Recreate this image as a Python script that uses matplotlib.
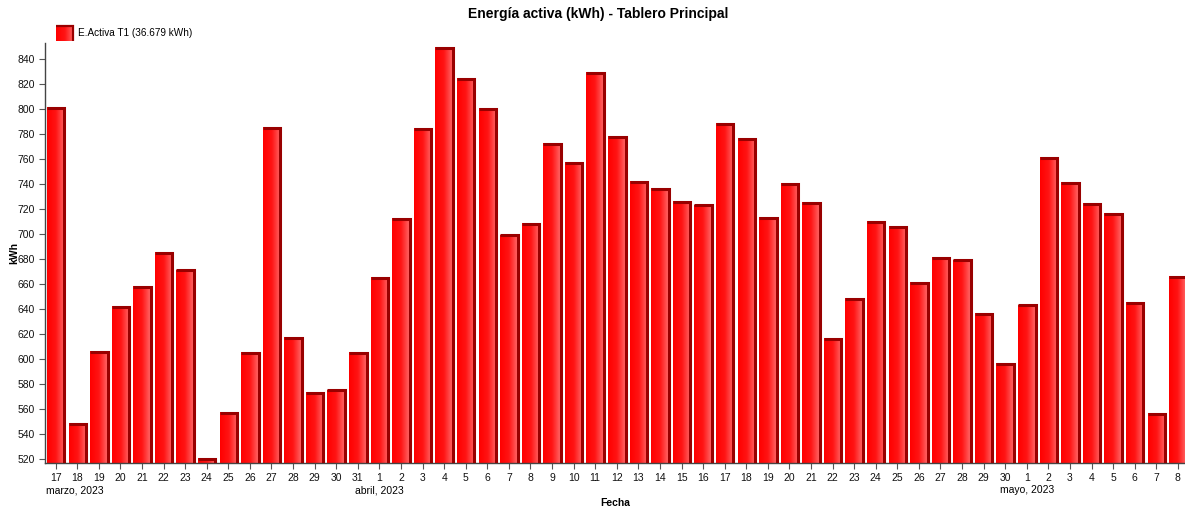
import numpy as np
import pandas as pd
import matplotlib
matplotlib.use("Agg")
import matplotlib.pyplot as plt
import matplotlib.transforms as mtransforms
from matplotlib.colors import LinearSegmentedColormap

plt.rcParams['font.family'] = ['Liberation Sans', 'DejaVu Sans']

# Energía activa diaria (kWh), 17-03-2023 a 08-05-2023
fechas = pd.date_range('2023-03-17', '2023-05-08', freq='D')
dias = [d.day for d in fechas]

energia_marzo = [801, 548, 606, 642, 658, 685, 671, 520, 557, 605, 785, 617, 573, 575, 605]
energia_abril = [665, 712, 784, 849, 824, 800, 699, 708, 772, 757, 829, 778, 742, 736, 726,
                 723, 788, 776, 713, 740, 725, 616, 648, 710, 706, 661, 681, 679, 636, 596]
energia_mayo = [643, 761, 741, 724, 716, 645, 556, 666]
energia = energia_marzo + energia_abril + energia_mayo

meses = {3: 'marzo', 4: 'abril', 5: 'mayo'}
titulo = 'Energía activa (kWh) - Tablero Principal'
serie = 'E.Activa T1'

total = sum(energia)
total_txt = f'{total:,}'.replace(',', '.')

# degradado horizontal de las barras + borde oscuro (efecto 3D)
rojo = LinearSegmentedColormap.from_list('rojo', ['#ff0000', '#ff1414', '#ff6a6a'])
grad = np.linspace(0, 1, 64).reshape(1, -1)
borde = '#990000'


def barra(axis, x0, x1, y0, y1, lw=2.2):
    axis.imshow(grad, cmap=rojo, extent=[x0, x1, y0, y1], aspect='auto',
                interpolation='bilinear', zorder=2)
    axis.plot([x0, x1, x1], [y1, y1, y0], color=borde, lw=lw,
              solid_joinstyle='miter', solid_capstyle='butt', zorder=3)


fig = plt.figure(figsize=(11.85, 5.09), dpi=100)
ax = fig.add_axes([0.0377, 0.0898, 0.9623, 0.8257])

x = np.arange(len(energia))
ancho = 0.81
y_min, y_max = 516.6, 853
for xi, v in zip(x, energia):
    barra(ax, xi - ancho / 2, xi + ancho / 2, y_min, v)

ax.set_xlim(-0.51, 52.33)
ax.set_ylim(y_min, y_max)

ax.set_xticks(x)
ax.set_xticklabels(dias)
ax.set_yticks(range(520, 841, 20))
ax.tick_params(length=4, width=0.8, color='#555555', labelsize=7.5, pad=3,
               labelcolor='#111111')
for lado in ['top', 'right']:
    ax.spines[lado].set_visible(False)
for lado in ['left', 'bottom']:
    ax.spines[lado].set_color('#444444')
    ax.spines[lado].set_linewidth(1.0)

# nombre del mes bajo el primer día de cada mes
trans = mtransforms.blended_transform_factory(ax.transData, ax.transAxes)
for i, d in enumerate(fechas):
    etiqueta = f'{meses[d.month]}, {d.year}'
    if d.day == 1:
        ax.text(i, -0.064, etiqueta, ha='center', va='center', fontsize=7.5,
                transform=trans)
    elif i == 0:
        ax.text(0.001, -0.064, etiqueta, ha='left', va='center', fontsize=7.5,
                transform=ax.transAxes)

ax.set_ylabel('kWh', fontweight='bold', fontsize=7.5)
ax.yaxis.set_label_coords(-0.0225, 0.5)
ax.set_xlabel('Fecha', fontweight='bold', fontsize=7.5)
ax.xaxis.set_label_coords(0.5, -0.082)

# leyenda
lax = fig.add_axes([56 / 1185, 1 - 41 / 509, 19 / 1185, 17 / 509])
barra(lax, 0, 0.9, 0, 0.9, lw=1.6)
lax.set_xlim(0, 1)
lax.set_ylim(0, 1)
lax.axis('off')
fig.text(78 / 1185, 1 - 33 / 509, f'{serie} ({total_txt} kWh)', ha='left',
         va='center', fontsize=7.2)

fig.text(0.505, 1 - 14 / 509, titulo, ha='center', va='center',
         fontsize=10, fontweight='bold')

fig.savefig('out.png', dpi=100)
